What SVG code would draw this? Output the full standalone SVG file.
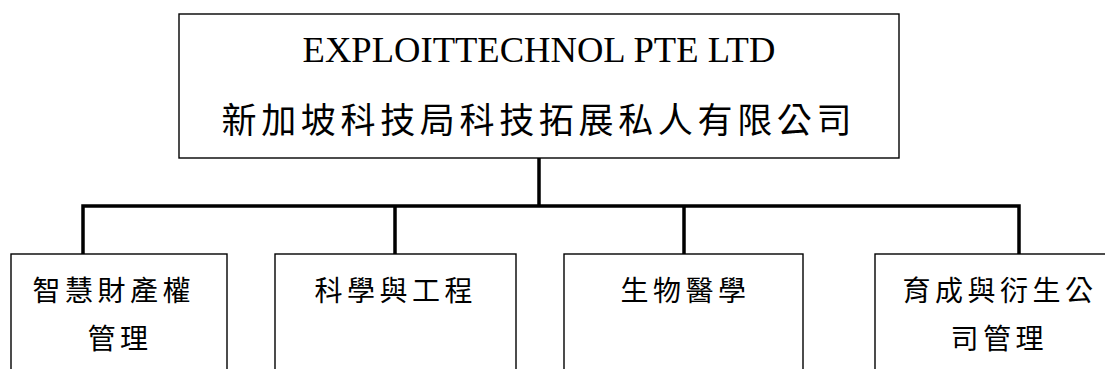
<svg xmlns="http://www.w3.org/2000/svg" width="1105" height="369" viewBox="0 0 1105 369">
<style>
.box{fill:#fff;stroke:#000;stroke-width:1.4}
.conn{fill:none;stroke:#000;stroke-width:3.5}
.en{font-family:"Liberation Serif","Noto Sans CJK TC",serif;font-size:36.6px;fill:#000}
.zh{font-family:"Noto Sans CJK TC","Noto Sans CJK SC",sans-serif;fill:#000;font-weight:400}
.big{font-size:35px}
.sm{font-size:28px;letter-spacing:4.5px}
</style>
<rect width="1105" height="369" fill="#fff"/>
<g id="connectors">
<path class="conn" d="M539 158V206M83 255V206H1019V255M395 206V255M684 206V255"/>
</g>
<g id="root">
<rect class="box" x="179" y="14" width="720" height="144"/>
<text class="en" x="539" y="62" text-anchor="middle">EXPLOITTECHNOL PTE LTD</text>
<text class="zh big" x="221.5" y="133" textLength="630" lengthAdjust="spacing">新加坡科技局科技拓展私人有限公司</text>
</g>
<g id="n1">
<rect class="box" x="11" y="254" width="216" height="130"/>
<text class="zh sm" x="32.5" y="301">智慧財產權</text>
<text class="zh sm" x="87.5" y="349">管理</text>
</g>
<g id="n2">
<rect class="box" x="275" y="254" width="241" height="130"/>
<text class="zh sm" x="314.5" y="301">科學與工程</text>
</g>
<g id="n3">
<rect class="box" x="564" y="254" width="239" height="130"/>
<text class="zh sm" x="620.5" y="301">生物醫學</text>
</g>
<g id="n4">
<rect class="box" x="875" y="254" width="260" height="130"/>
<text class="zh sm" x="902.5" y="301">育成與衍生公</text>
<text class="zh sm" x="950.5" y="349">司管理</text>
</g>
</svg>
